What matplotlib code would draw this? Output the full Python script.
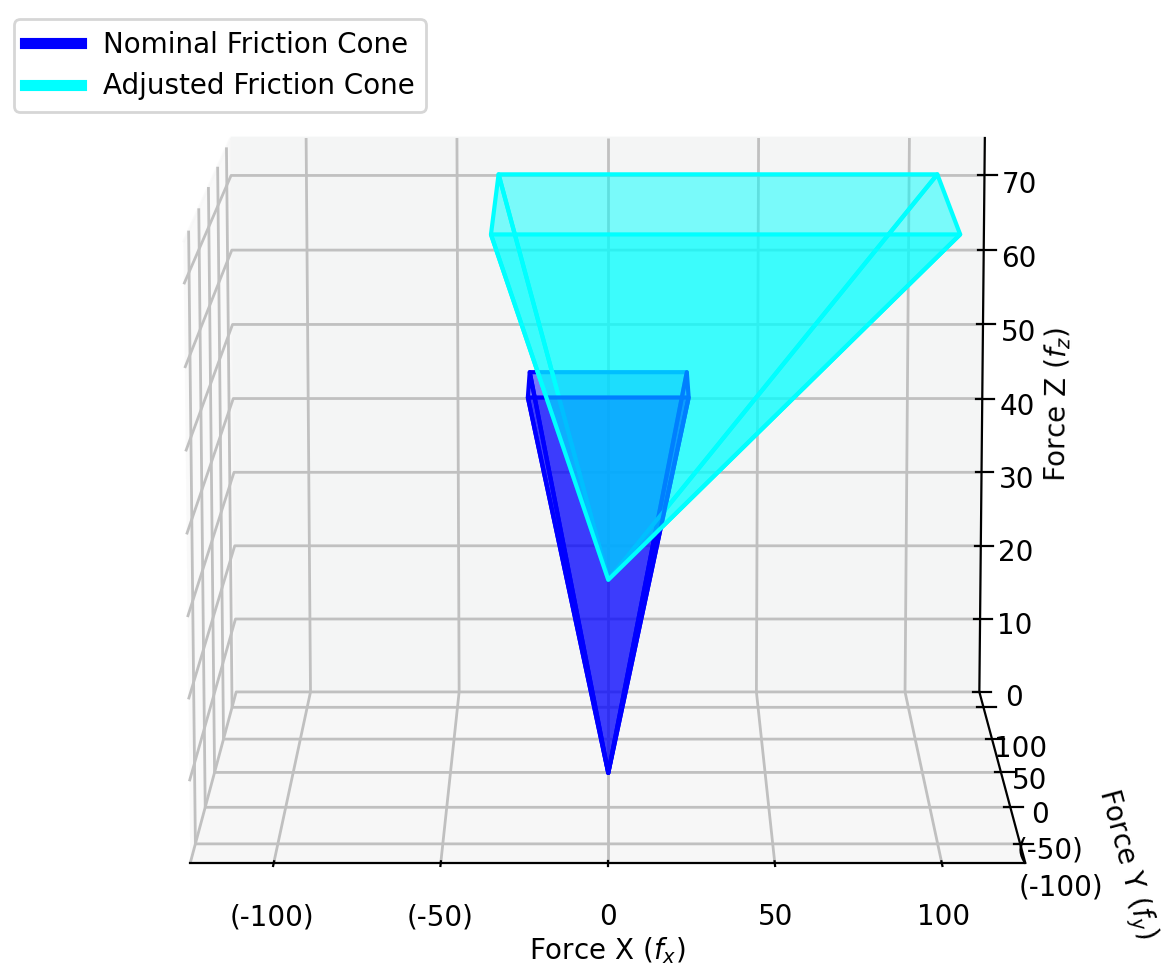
import numpy as np
import matplotlib
matplotlib.use("Agg")
import matplotlib.pyplot as plt
from matplotlib.colors import to_rgba
from mpl_toolkits.mplot3d.art3d import Poly3DCollection

# apex and top rim of each friction cone
nominal_apex = [0, 0, 0]
nominal_x = [-25, 25]
nominal_y = [-25, 25]
nominal_top = 50

adjusted_apex = [0, 0, 25]
adjusted_x = [-35.5, 106.5]
adjusted_y = [-71, 71]
adjusted_top = 73

xy_ticks = [-100, -50, 0, 50, 100]
xy_labels = ["(-100)", "(-50)", "0", "50", "100"]
z_ticks = [0, 10, 20, 30, 40, 50, 60, 70]


def cone_faces(apex, xr, yr, top):
    # side faces only, the top of the cone stays open
    rim = [[xr[0], yr[0], top], [xr[1], yr[0], top], [xr[1], yr[1], top], [xr[0], yr[1], top]]
    return {"front": [apex, rim[0], rim[1]], "right": [apex, rim[1], rim[2]],
            "back": [apex, rim[2], rim[3]], "left": [apex, rim[3], rim[0]]}


def draw_face(ax, face, color, alpha):
    poly = Poly3DCollection([face], facecolors=to_rgba(color, alpha), edgecolors=to_rgba(color, 1.0), linewidths=1.5)
    ax.add_collection3d(poly)


plt.rcParams["grid.color"] = "#c0c0c0"
plt.rcParams["grid.linewidth"] = 1.0

fig = plt.figure(figsize=(5.84, 4.86), dpi=200)
# axes bigger than the figure, the 3d box only fills part of its rectangle
ax = fig.add_axes([-0.1274, -0.1465, 1.267, 1.267], projection="3d")
ax.computed_zorder = False

nominal_faces = cone_faces(nominal_apex, nominal_x, nominal_y, nominal_top)
adjusted_faces = cone_faces(adjusted_apex, adjusted_x, adjusted_y, adjusted_top)

# both cones go back to front together, so the layers blend like the original
for side in ["back", "left", "right", "front"]:
    draw_face(ax, nominal_faces[side], "blue", 0.5)
    draw_face(ax, adjusted_faces[side], "cyan", 0.5)

ax.set_xlim(-125, 125)
ax.set_ylim(-125, 125)
ax.set_zlim(0, 75)
ax.set_xticks(xy_ticks)
ax.set_xticklabels(xy_labels)
ax.set_yticks(xy_ticks)
ax.set_yticklabels(xy_labels)
ax.set_zticks(z_ticks)
ax.set_xlabel("Force X ($f_x$)", labelpad=4)
ax.set_ylabel("Force Y ($f_y$)", labelpad=16)
ax.set_zlabel("Force Z ($f_z$)")
ax.view_init(elev=10, azim=-90)
ax.xaxis.set_pane_color((0.96, 0.96, 0.96, 0.5))
ax.yaxis.set_pane_color((0.955, 0.96, 0.96, 1.0))
ax.zaxis.set_pane_color((0.97, 0.97, 0.97, 1.0))

handles = [plt.Line2D([], [], color="blue", lw=4), plt.Line2D([], [], color="cyan", lw=4)]
fig.legend(handles, ["Nominal Friction Cone", "Adjusted Friction Cone"],
           loc="upper left", bbox_to_anchor=(0.012, 0.98), borderaxespad=0)

fig.savefig("out.png", dpi=200)
